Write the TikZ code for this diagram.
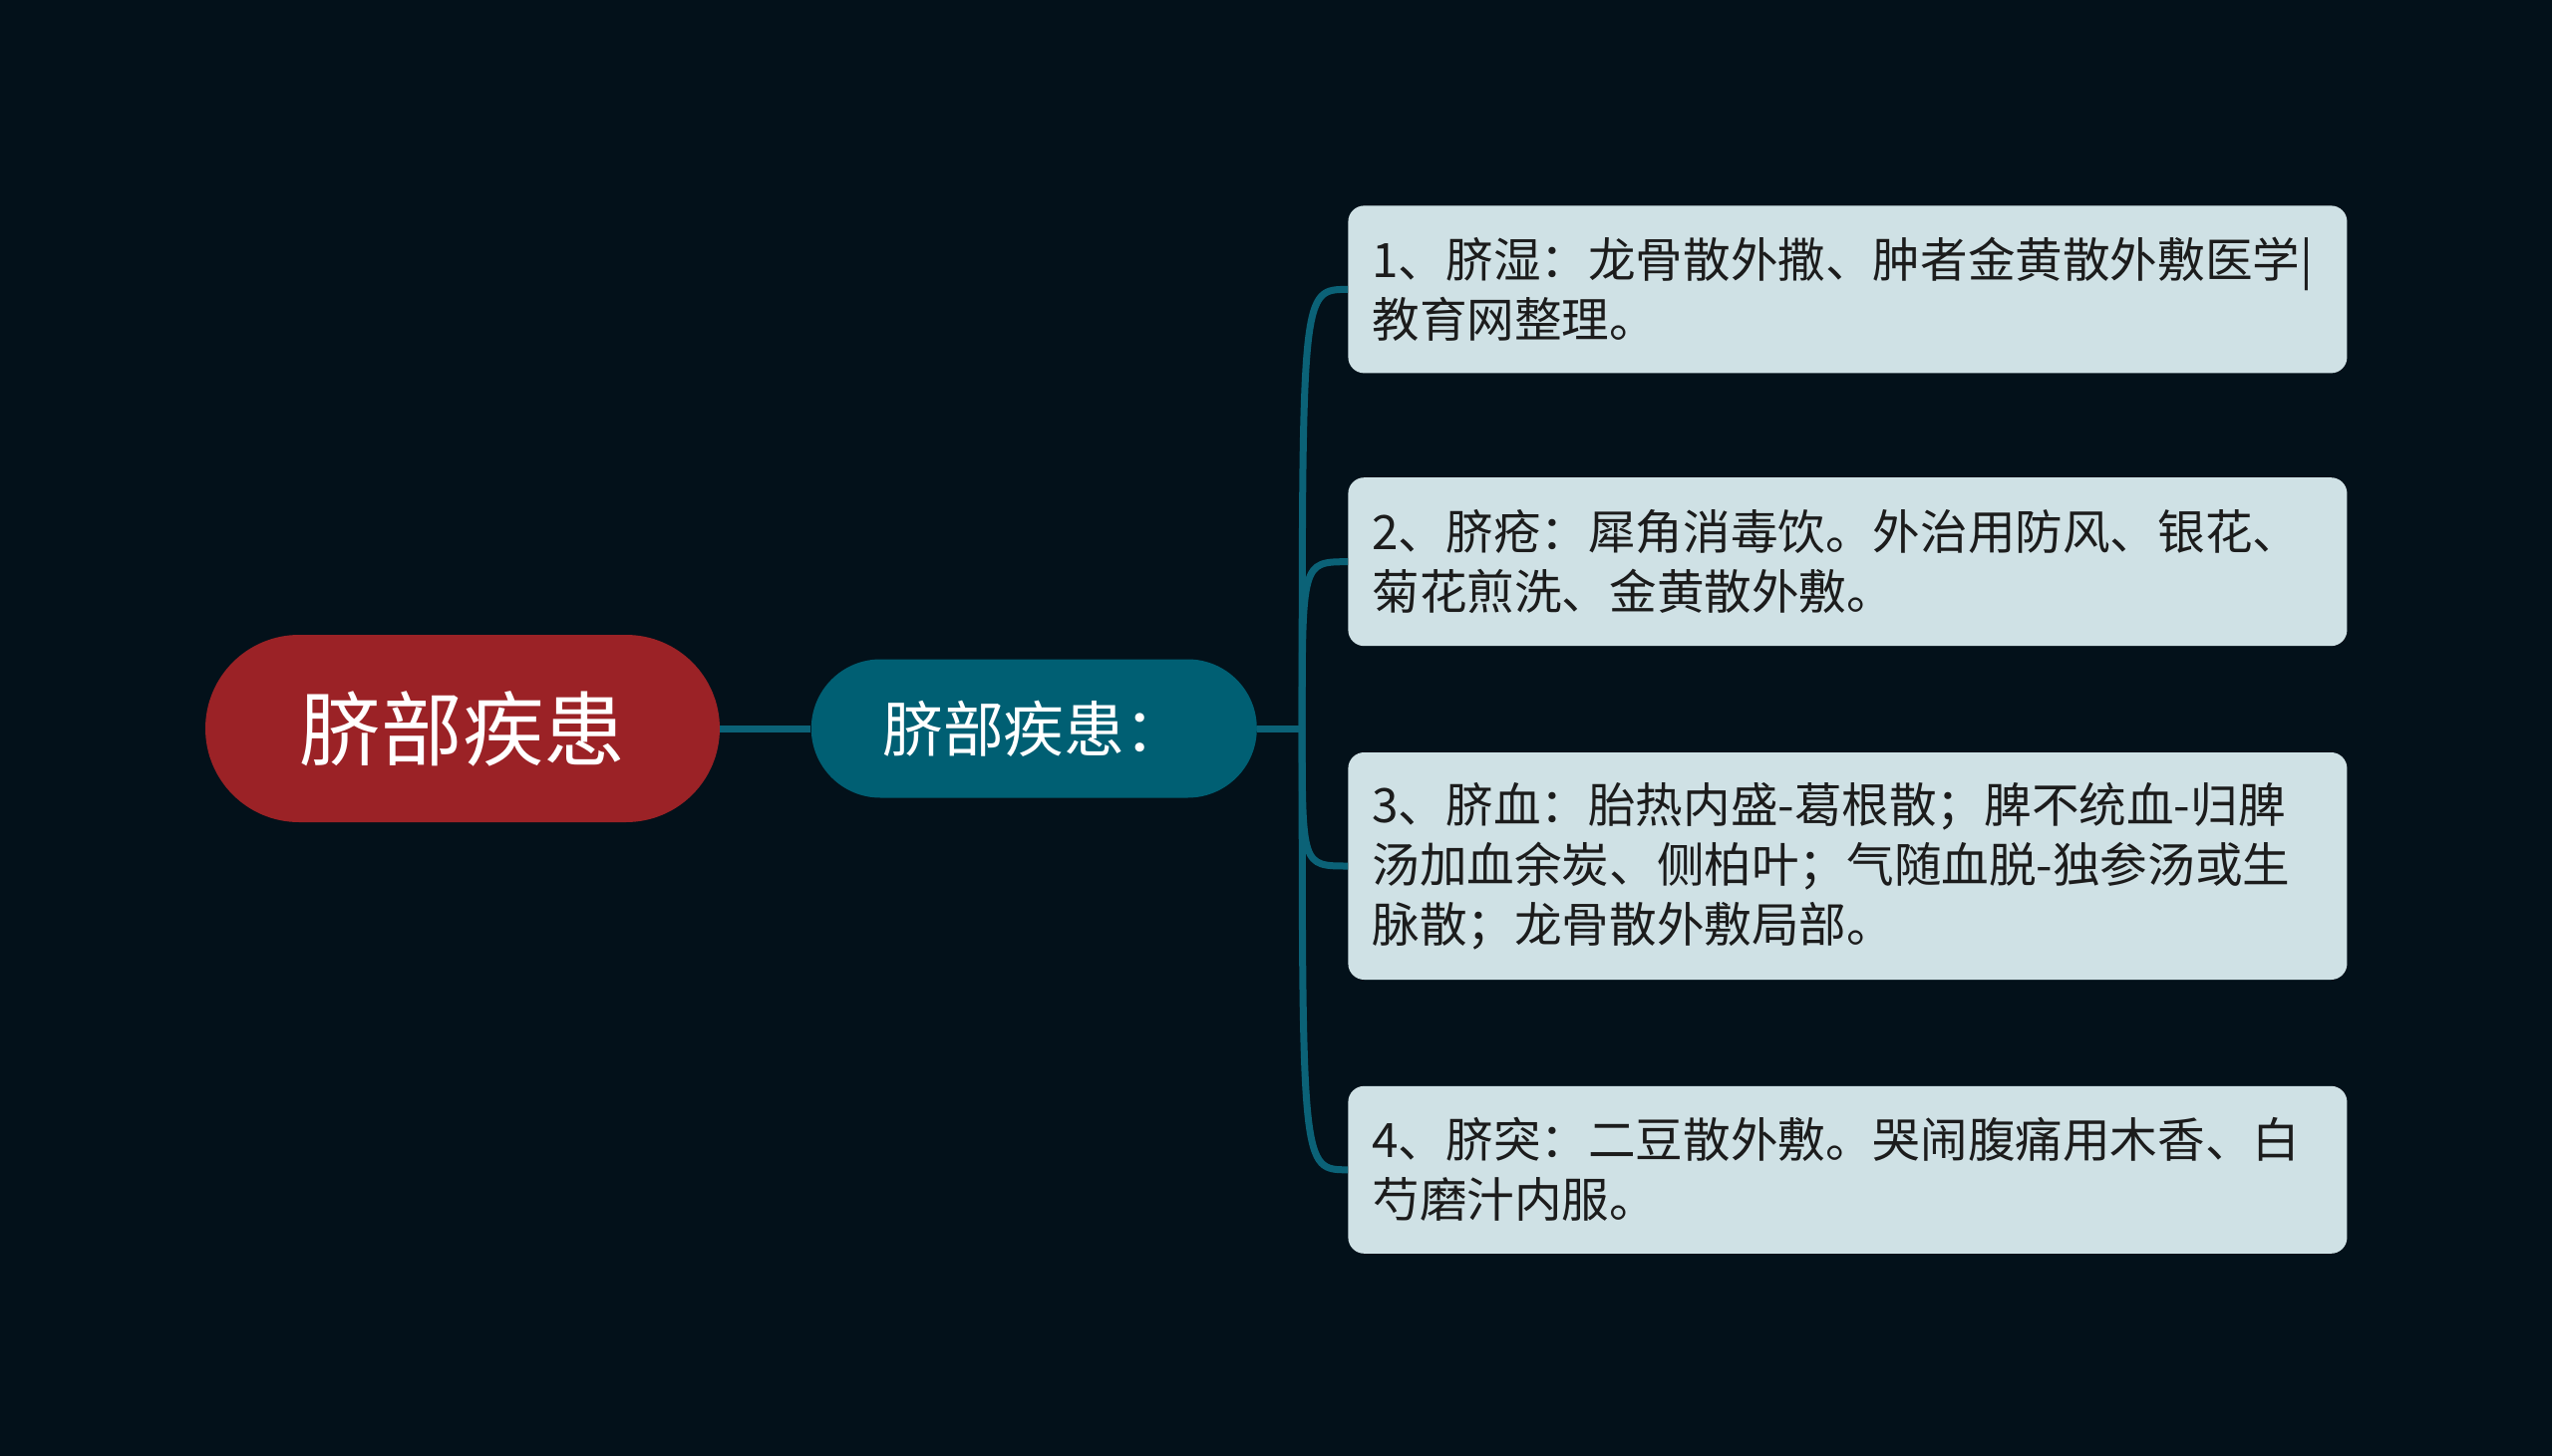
\documentclass[tikz,border=0pt]{standalone}
\usepackage{fontspec}
\setmainfont{Noto Sans CJK SC}
\usetikzlibrary{positioning}
\definecolor{bgnavy}{HTML}{03111A}
\definecolor{rootred}{HTML}{9B2226}
\definecolor{midteal}{HTML}{005F73}
\definecolor{linkteal}{HTML}{0B6277}
\definecolor{leafgray}{HTML}{CFE1E5}
\definecolor{leafink}{HTML}{1C1C1C}
\tikzset{x=0.5pt, y=-0.5pt, % one unit is one pixel of the screenshot
  every node/.style={align=center, inner sep=0pt},
  rootnode/.style={ % the red main topic
    fill=rootred, text=white,
    minimum width=258pt, minimum height=94pt, rounded corners=47pt,
    font=\fontsize{40.8}{48}\selectfont},
  midnode/.style={ % the teal sub topic
    fill=midteal, text=white,
    minimum width=223.5pt, minimum height=69.5pt, rounded corners=34.7pt,
    font=\fontsize{30.4}{36}\selectfont},
  leafnode/.style={ % light boxes on the right
    fill=leafgray, text=leafink, rounded corners=8pt,
    text width=477pt, inner xsep=12pt, align=left,
    font=\fontsize{23.8}{30}\selectfont},
  link/.style={draw=linkteal, line width=3.5pt}}
\begin{document}
\begin{tikzpicture}
  \fill[bgnavy] (0,0) rectangle (2560,1461);
  \useasboundingbox (0,0) rectangle (2560,1461);

  \node [rootnode] (root) at (464,731) {脐部疾患};
  \node [midnode, right=45.5pt of root] (mid) {脐部疾患：};

  \node [leafnode, minimum height=84pt, anchor=north west] (l1) at (1352,206)
    {1、脐湿：龙骨散外撒、肿者金黄散外敷医学|\\教育网整理。};
  \node [leafnode, minimum height=84.5pt, below=52pt of l1] (l2)
    {2、脐疮：犀角消毒饮。外治用防风、银花、\\菊花煎洗、金黄散外敷。};
  \node [leafnode, minimum height=114pt, below=53pt of l2] (l3)
    {3、脐血：胎热内盛-葛根散；脾不统血-归脾\\汤加血余炭、侧柏叶；气随血脱-独参汤或生\\脉散；龙骨散外敷局部。};
  \node [leafnode, minimum height=84pt, below=53pt of l3] (l4)
    {4、脐突：二豆散外敷。哭闹腹痛用木香、白\\芍磨汁内服。};

  \coordinate (fork) at ([xshift=22.5pt]mid.east);

  \draw [link] (root) -- (mid);
  \draw [link] (mid) -- (fork);
  \foreach \leaf in {l1,l2,l3,l4}
    \draw [link] (fork) .. controls (fork |- \leaf.west) .. (\leaf.west);
\end{tikzpicture}
\end{document}
